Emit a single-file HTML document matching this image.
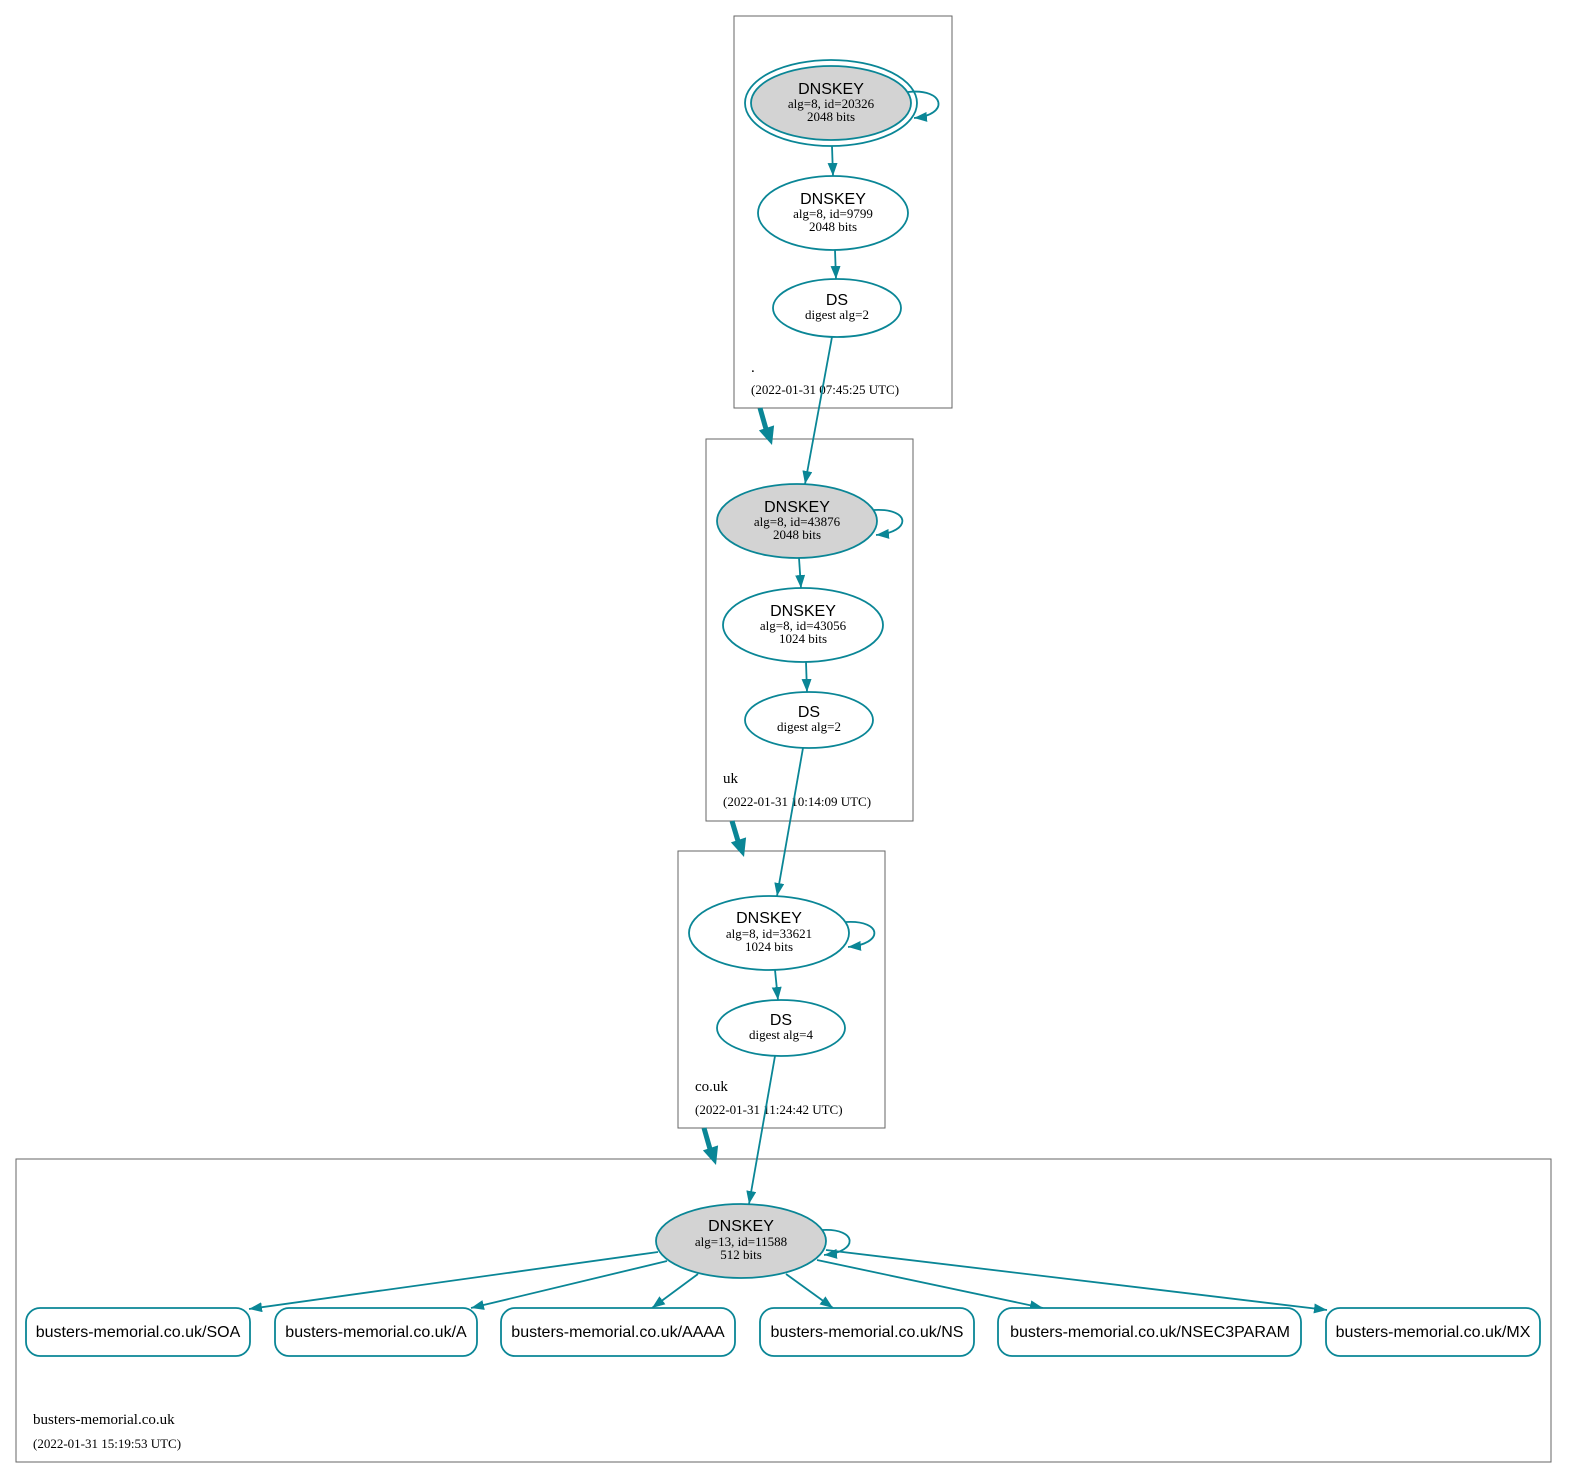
<!DOCTYPE html>
<html><head><meta charset="utf-8"><style>
html,body{margin:0;padding:0;background:#fff}
svg{display:block}
.s{font-family:"Liberation Sans",sans-serif;font-size:16px;text-anchor:middle}
.t{font-family:"Liberation Serif",serif;font-size:13px;text-anchor:middle}
.z{font-family:"Liberation Serif",serif;font-size:15px}
.d{font-family:"Liberation Serif",serif;font-size:13px}
.e{fill:#fff;stroke:#0a8696;stroke-width:1.8}
.g{fill:#d3d3d3;stroke:#0a8696;stroke-width:1.8}
.l{fill:none;stroke:#0a8696;stroke-width:1.8}
.b{fill:none;stroke:#666;stroke-width:1}
</style></head><body>
<svg width="1572" height="1482" viewBox="0 0 1572 1482" xmlns="http://www.w3.org/2000/svg">
<defs>
<marker id="a" viewBox="0 0 13 10" refX="13" refY="5" markerWidth="13" markerHeight="10" orient="auto" markerUnits="userSpaceOnUse">
<path d="M0,0 L13,5 L0,10 z" fill="#0a8696"/></marker>
</defs>
<rect class="b" x="734" y="16" width="218" height="392"/>
<rect class="b" x="706" y="439" width="207" height="382"/>
<rect class="b" x="678" y="851" width="207" height="277"/>
<rect class="b" x="16" y="1159" width="1535" height="303"/>
<text class="z" x="751" y="372">.</text>
<text class="d" x="751" y="394">(2022-01-31 07:45:25 UTC)</text>
<text class="z" x="723" y="783">uk</text>
<text class="d" x="723" y="806">(2022-01-31 10:14:09 UTC)</text>
<text class="z" x="695" y="1091">co.uk</text>
<text class="d" x="695" y="1114">(2022-01-31 11:24:42 UTC)</text>
<text class="z" x="33" y="1424">busters-memorial.co.uk</text>
<text class="d" x="33" y="1448">(2022-01-31 15:19:53 UTC)</text>
<g stroke="#0a8696" stroke-width="5">
<line x1="760" y1="408" x2="766" y2="429"/>
<line x1="732" y1="821" x2="738" y2="841"/>
<line x1="704" y1="1128" x2="710" y2="1149"/>
</g>
<g fill="#0a8696">
<polygon points="774.1,425.4 758.9,430.4 772,445"/>
<polygon points="746.1,837.4 730.9,842.4 744,857"/>
<polygon points="718.1,1145.4 702.9,1150.4 716,1165"/>
</g>
<ellipse class="e" cx="831" cy="103" rx="86" ry="43"/>
<ellipse class="g" cx="831" cy="103" rx="80" ry="37"/>
<path class="l" d="M908,92 C945,88 950,115 914,118" marker-end="url(#a)"/>
<text class="s" x="831" y="94">DNSKEY</text><text class="t" x="831" y="108">alg=8, id=20326</text><text class="t" x="831" y="121">2048 bits</text>
<line class="l" x1="832" y1="146" x2="833" y2="176" marker-end="url(#a)"/>
<ellipse class="e" cx="833" cy="213" rx="75" ry="37"/>
<text class="s" x="833" y="204">DNSKEY</text><text class="t" x="833" y="218">alg=8, id=9799</text><text class="t" x="833" y="231">2048 bits</text>
<line class="l" x1="835" y1="250" x2="836" y2="279" marker-end="url(#a)"/>
<ellipse class="e" cx="837" cy="308" rx="64" ry="29"/>
<text class="s" x="837" y="305">DS</text><text class="t" x="837" y="319">digest alg=2</text>
<line class="l" x1="832" y1="337" x2="805" y2="484" marker-end="url(#a)"/>
<ellipse class="g" cx="797" cy="521" rx="80" ry="37"/>
<path class="l" d="M874,510 C911,508 912,532 876,535" marker-end="url(#a)"/>
<text class="s" x="797" y="512">DNSKEY</text><text class="t" x="797" y="526">alg=8, id=43876</text><text class="t" x="797" y="539">2048 bits</text>
<line class="l" x1="799" y1="558" x2="801" y2="588" marker-end="url(#a)"/>
<ellipse class="e" cx="803" cy="625" rx="80" ry="37"/>
<text class="s" x="803" y="616">DNSKEY</text><text class="t" x="803" y="630">alg=8, id=43056</text><text class="t" x="803" y="643">1024 bits</text>
<line class="l" x1="806" y1="662" x2="807" y2="692" marker-end="url(#a)"/>
<ellipse class="e" cx="809" cy="720" rx="64" ry="28"/>
<text class="s" x="809" y="717">DS</text><text class="t" x="809" y="731">digest alg=2</text>
<line class="l" x1="803" y1="748" x2="777" y2="896" marker-end="url(#a)"/>
<ellipse class="e" cx="769" cy="933" rx="80" ry="37"/>
<path class="l" d="M846,922 C883,920 884,944 848,947" marker-end="url(#a)"/>
<text class="s" x="769" y="923">DNSKEY</text><text class="t" x="769" y="938">alg=8, id=33621</text><text class="t" x="769" y="951">1024 bits</text>
<line class="l" x1="775" y1="970" x2="778" y2="1000" marker-end="url(#a)"/>
<ellipse class="e" cx="781" cy="1028" rx="64" ry="28"/>
<text class="s" x="781" y="1025">DS</text><text class="t" x="781" y="1039">digest alg=4</text>
<line class="l" x1="775" y1="1056" x2="749" y2="1204" marker-end="url(#a)"/>
<ellipse class="g" cx="741" cy="1241" rx="85" ry="37"/>
<path class="l" d="M822,1230 C858,1228 859,1252 824,1255" marker-end="url(#a)"/>
<text class="s" x="741" y="1231">DNSKEY</text><text class="t" x="741" y="1246">alg=13, id=11588</text><text class="t" x="741" y="1259">512 bits</text>
<line class="l" x1="658" y1="1252" x2="249" y2="1309" marker-end="url(#a)"/>
<line class="l" x1="667" y1="1261" x2="471" y2="1308" marker-end="url(#a)"/>
<line class="l" x1="698" y1="1274" x2="652" y2="1308" marker-end="url(#a)"/>
<line class="l" x1="786" y1="1274" x2="833" y2="1308" marker-end="url(#a)"/>
<line class="l" x1="817" y1="1260" x2="1043" y2="1308" marker-end="url(#a)"/>
<line class="l" x1="826" y1="1250" x2="1327" y2="1310" marker-end="url(#a)"/>
<rect class="e" x="26" y="1308" width="224" height="48" rx="14"/>
<rect class="e" x="275" y="1308" width="202" height="48" rx="14"/>
<rect class="e" x="501" y="1308" width="234" height="48" rx="14"/>
<rect class="e" x="760" y="1308" width="214" height="48" rx="14"/>
<rect class="e" x="998" y="1308" width="303" height="48" rx="14"/>
<rect class="e" x="1326" y="1308" width="214" height="48" rx="14"/>
<text class="s" x="138" y="1337">busters-memorial.co.uk/SOA</text>
<text class="s" x="376" y="1337">busters-memorial.co.uk/A</text>
<text class="s" x="618" y="1337">busters-memorial.co.uk/AAAA</text>
<text class="s" x="867" y="1337">busters-memorial.co.uk/NS</text>
<text class="s" x="1150" y="1337">busters-memorial.co.uk/NSEC3PARAM</text>
<text class="s" x="1433" y="1337">busters-memorial.co.uk/MX</text>
</svg>
</body></html>
